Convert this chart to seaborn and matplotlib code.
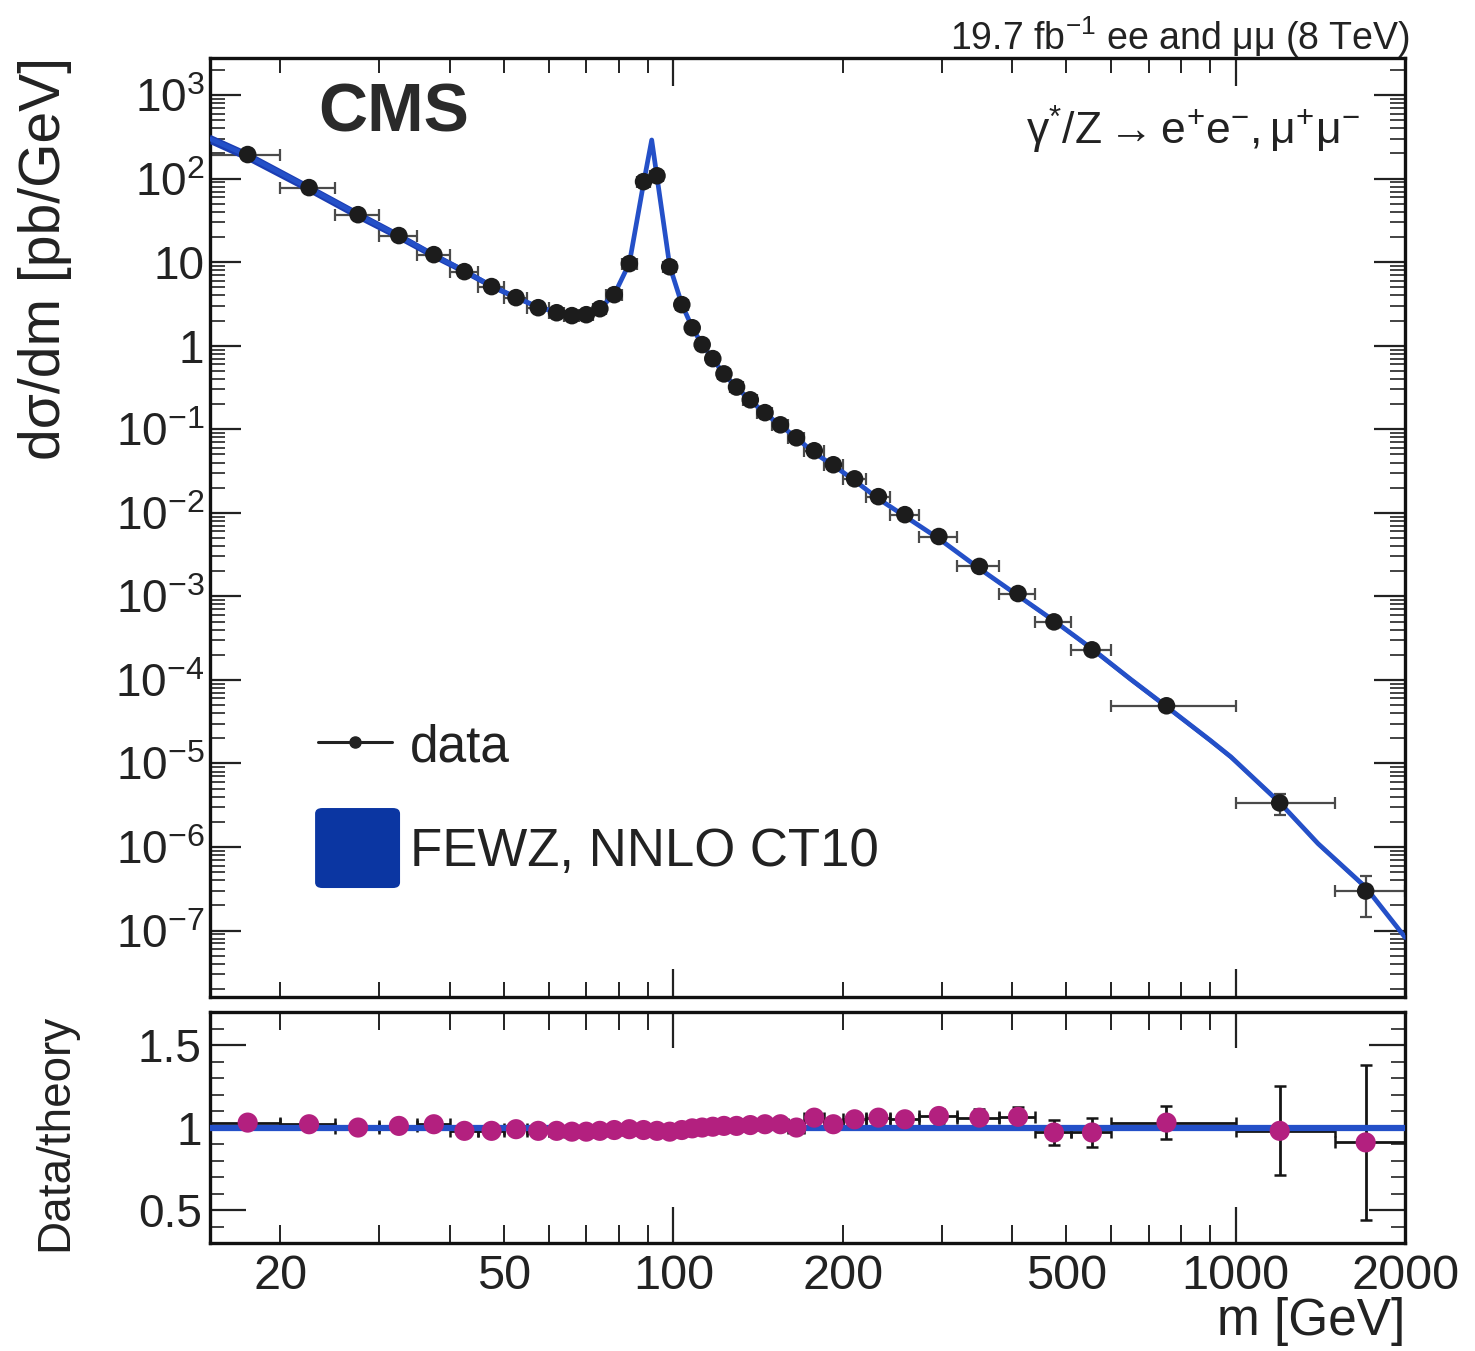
import numpy as np
import matplotlib
matplotlib.use("Agg")
import matplotlib.pyplot as plt
import seaborn as sns
from matplotlib.ticker import FixedLocator, FuncFormatter, MultipleLocator, LogLocator, NullFormatter
from matplotlib.patches import FancyBboxPatch

# ---- measured Drell-Yan spectrum (41 mass bins) ----
mass_edges = [15, 20, 25, 30, 35, 40, 45, 50, 55, 60, 64, 68, 72, 76, 81, 86, 91, 96,
              101, 106, 110, 115, 120, 126, 133, 141, 150, 160, 171, 185, 200, 220, 243,
              273, 320, 380, 440, 510, 600, 1000, 1500, 2000]
mass_point = [17.5, 22.5, 27.5, 32.5, 37.5, 42.5, 47.5, 52.5, 57.5, 62, 66, 70, 74, 78.5,
              83.5, 88.5, 93.5, 98.5, 103.5, 108, 112.5, 117.5, 123, 129.5, 137, 145.5, 155,
              165.5, 178, 192.5, 210, 231.5, 258, 296.5, 350, 410, 475, 555, 753, 1197, 1702]
xsec = [194, 78, 37, 20.8, 12.3, 7.7, 5.1, 3.76, 2.85, 2.48, 2.29, 2.35, 2.77, 4.08,
        9.6, 92, 108, 8.8, 3.1, 1.64, 1.03, 0.70, 0.46, 0.32, 0.225, 0.158, 0.113,
        0.079, 0.0553, 0.0376, 0.0255, 0.0156, 0.0095, 0.0052, 0.00228, 0.00108,
        4.95e-4, 2.29e-4, 4.9e-5, 3.37e-6, 2.97e-7]
ratio = [1.03, 1.02, 1.00, 1.01, 1.02, 0.98, 0.98, 0.99, 0.98, 0.98, 0.975, 0.975, 0.98,
         0.985, 0.99, 0.985, 0.98, 0.975, 0.985, 0.995, 1.0, 1.005, 1.01, 1.01, 1.015,
         1.02, 1.02, 1.0, 1.06, 1.02, 1.05, 1.06, 1.05, 1.07, 1.06, 1.065, 0.97, 0.97,
         1.03, 0.98, 0.91]
ratio_err = [0.02, 0.02, 0.02, 0.02, 0.02, 0.015, 0.015, 0.015, 0.015, 0.01, 0.01, 0.01,
             0.01, 0.01, 0.01, 0.01, 0.01, 0.01, 0.01, 0.01, 0.01, 0.01, 0.01, 0.012,
             0.012, 0.015, 0.015, 0.018, 0.02, 0.02, 0.025, 0.03, 0.035, 0.04, 0.05,
             0.06, 0.075, 0.09, 0.10, 0.27, 0.47]

# ---- FEWZ NNLO CT10 prediction ----
theory_mass = [15, 17.5, 22.5, 27.5, 32.5, 37.5, 42.5, 47.5, 52.5, 57.5, 62, 66, 70, 74,
               78.5, 83.5, 88.5, 91.5, 93.5, 98.5, 103.5, 108, 112.5, 117.5, 123, 129.5,
               137, 145.5, 155, 165.5, 178, 192.5, 210, 231.5, 258, 296.5, 350, 410, 475,
               555, 650, 753, 900, 980, 1197, 1400, 1702, 2000]
theory_xsec = [300, 188, 77, 37, 20.6, 12.1, 7.85, 5.2, 3.8, 2.9, 2.52, 2.34, 2.4, 2.8,
               4.1, 9.7, 88, 290, 105, 9.0, 3.15, 1.65, 1.03, 0.70, 0.455, 0.317, 0.222,
               0.155, 0.111, 0.079, 0.052, 0.037, 0.0243, 0.0147, 0.0091, 0.0049,
               0.00215, 0.00102, 5.1e-4, 2.36e-4, 1.02e-4, 4.8e-5, 1.9e-5, 1.2e-5,
               3.4e-6, 1.1e-6, 3.3e-7, 8.3e-8]
theory_unc = [0.13, 0.13, 0.12, 0.12, 0.11, 0.10, 0.09, 0.08, 0.07, 0.06, 0.05, 0.04,
              0.04, 0.03, 0.02, 0.02, 0.02, 0.02, 0.02, 0.02, 0.02, 0.02, 0.02, 0.02,
              0.02, 0.03, 0.03, 0.03, 0.03, 0.035, 0.035, 0.035, 0.04, 0.04, 0.045,
              0.05, 0.05, 0.06, 0.06, 0.07, 0.07, 0.07, 0.07, 0.07, 0.07, 0.07, 0.07, 0.07]

x_major = [100, 1000]
x_minor = [20, 30, 40, 50, 60, 70, 80, 90, 200, 300, 400, 500, 600, 700, 800, 900, 2000]
x_labeled = [20, 50, 100, 200, 500, 1000, 2000]
y_decades = [1e-7, 1e-6, 1e-5, 1e-4, 1e-3, 1e-2, 1e-1, 1, 10, 1e2, 1e3]
y_labels = ["$10^{-7}$", "$10^{-6}$", "$10^{-5}$", "$10^{-4}$", "$10^{-3}$", "$10^{-2}$",
            "$10^{-1}$", "1", "10", "$10^{2}$", "$10^{3}$"]
r_major = [0.5, 1.0, 1.5]
r_labels = ["0.5", "1", "1.5"]

BAND = "#1b3db3"
LINE = "#2450c8"
DATA = "#1c1c1c"
MAGENTA = "#b3207f"

sns.set_theme(style="ticks")
plt.rcParams["font.family"] = ["Liberation Sans", "DejaVu Sans"]
plt.rcParams["mathtext.fontset"] = "custom"
plt.rcParams["mathtext.rm"] = "Liberation Sans"
plt.rcParams["mathtext.it"] = "Liberation Sans:italic"
plt.rcParams["mathtext.bf"] = "Liberation Sans:bold"
plt.rcParams["mathtext.default"] = "regular"
plt.rcParams["text.color"] = "#222222"

mp = np.array(mass_point)
edges = np.array(mass_edges)
xs = np.array(xsec)
rt = np.array(ratio)
re = np.array(ratio_err)
xerr = [mp - edges[:-1], edges[1:] - mp]
tm = np.array(theory_mass)
tx = np.array(theory_xsec)
tu = np.array(theory_unc)

fig = plt.figure(figsize=(14.75, 13.51), dpi=100)
ax = fig.add_axes([0.1424, 0.2620, 0.8102, 0.6950])
axr = fig.add_axes([0.1424, 0.0799, 0.8102, 0.1710])

for a in (ax, axr):
    a.set_xscale("log")
    a.set_xlim(15, 2000)
ax.set_yscale("log")
ax.set_ylim(1.6e-8, 2.77e3)
axr.set_ylim(0.3, 1.7)

# ---- main panel ----
ax.errorbar(mp, xs, xerr=xerr, yerr=xs * re / rt, fmt="none", ecolor="#4a4a4a",
            elinewidth=1.6, capsize=4, capthick=1.6, zorder=2)
ax.fill_between(tm, tx * (1 - tu), tx * (1 + tu), color=BAND, lw=0, zorder=3)
sns.lineplot(x=tm, y=tx, ax=ax, color=LINE, lw=3.4, sort=False, estimator=None, zorder=4)
sns.scatterplot(x=mp, y=xs, ax=ax, color=DATA, s=160, edgecolor="none", zorder=5,
                legend=False)

# ---- ratio panel ----
axr.errorbar(mp, rt, xerr=xerr, yerr=re, fmt="none", ecolor="#151515",
             elinewidth=2.0, capsize=4, capthick=1.8, zorder=2)
sns.lineplot(x=tm, y=tx / tx, ax=axr, color=LINE, lw=4.5, sort=False, estimator=None,
             zorder=3)
sns.scatterplot(x=mp, y=rt, ax=axr, color=MAGENTA, s=210, edgecolor="none", zorder=4,
                legend=False)

# ---- axes styling ----
for a in (ax, axr):
    for s in a.spines.values():
        s.set_linewidth(2.4)
        s.set_color("#111111")
    a.set_xlabel("")
    a.set_ylabel("")
    a.xaxis.set_major_locator(FixedLocator(x_major))
    a.xaxis.set_minor_locator(FixedLocator(x_minor))
    a.tick_params(which="both", direction="in", top=True, right=True, colors="#222222")

ax.tick_params(axis="x", which="major", length=20, width=1.6, labelbottom=False)
ax.tick_params(axis="x", which="minor", length=11, width=1.4, labelbottom=False)
ax.yaxis.set_major_locator(FixedLocator(y_decades))
ax.yaxis.set_major_formatter(FuncFormatter(lambda v, p: y_labels[y_decades.index(v)]
                                           if v in y_decades else ""))
ax.yaxis.set_minor_locator(LogLocator(base=10, subs=np.arange(2, 10), numticks=30))
ax.yaxis.set_minor_formatter(NullFormatter())
ax.tick_params(axis="y", which="major", length=22, width=1.6, labelsize=33, pad=4)
ax.tick_params(axis="y", which="minor", length=11, width=1.2)

axr.tick_params(axis="x", which="major", length=26, width=1.6, labelsize=35, pad=8)
axr.tick_params(axis="x", which="minor", length=13, width=1.4, labelsize=35, pad=8)
fmt = FuncFormatter(lambda v, p: f"{int(round(v))}" if int(round(v)) in x_labeled else "")
axr.xaxis.set_major_formatter(fmt)
axr.xaxis.set_minor_formatter(fmt)
axr.yaxis.set_major_locator(FixedLocator(r_major))
axr.yaxis.set_major_formatter(FuncFormatter(lambda v, p: r_labels[r_major.index(v)]
                                            if v in r_major else ""))
axr.yaxis.set_minor_locator(MultipleLocator(0.1))
axr.tick_params(axis="y", which="major", length=26, width=1.6, labelsize=33, pad=6)
axr.tick_params(axis="y", which="minor", length=10, width=1.2)

# ---- texts ----
ax.text(0.0904, 0.9414, "CMS", transform=ax.transAxes, fontsize=49, fontweight="bold",
        ha="left", va="center", color="#2a2a2a")
ax.text(0.9623, 0.9233, r"$\gamma^{*}/Z \rightarrow e^{+}e^{-}, \mu^{+}\mu^{-}$",
        transform=ax.transAxes, fontsize=32, ha="right", va="center")
ax.text(1.004, 1.0224, r"19.7 fb$^{-1}$ ee and $\mu\mu$ (8 TeV)", transform=ax.transAxes,
        fontsize=27, ha="right", va="center")

# legend
ax.plot([0.0904, 0.1523], [0.2716, 0.2716], transform=ax.transAxes, color="#222222",
        lw=2.2, zorder=6)
ax.plot([0.1213], [0.2716], transform=ax.transAxes, marker="o", ms=8, color="#222222",
        zorder=7)
ax.text(0.1674, 0.2652, "data", transform=ax.transAxes, fontsize=37, ha="left",
        va="center")
box = FancyBboxPatch((0.0879 + 0.006, 0.1161 + 0.006), 0.0711 - 0.012, 0.0852 - 0.012,
                     boxstyle="round,pad=0.006", transform=ax.transAxes,
                     facecolor="#0b36a2", edgecolor="none", zorder=6)
ax.add_patch(box)
ax.text(0.1674, 0.1544, "FEWZ, NNLO CT10", transform=ax.transAxes, fontsize=38,
        ha="left", va="center")

fig.text(0.0305, 0.809, "dσ/dm [pb/GeV]", rotation=90, ha="center", va="center",
         fontsize=41)
fig.text(0.0373, 0.162, "Data/theory", rotation=90, ha="center", va="center", fontsize=33)
fig.text(0.9525, 0.0215, "m [GeV]", ha="right", va="center", fontsize=37)

fig.savefig("out.png", dpi=100, facecolor="white")
